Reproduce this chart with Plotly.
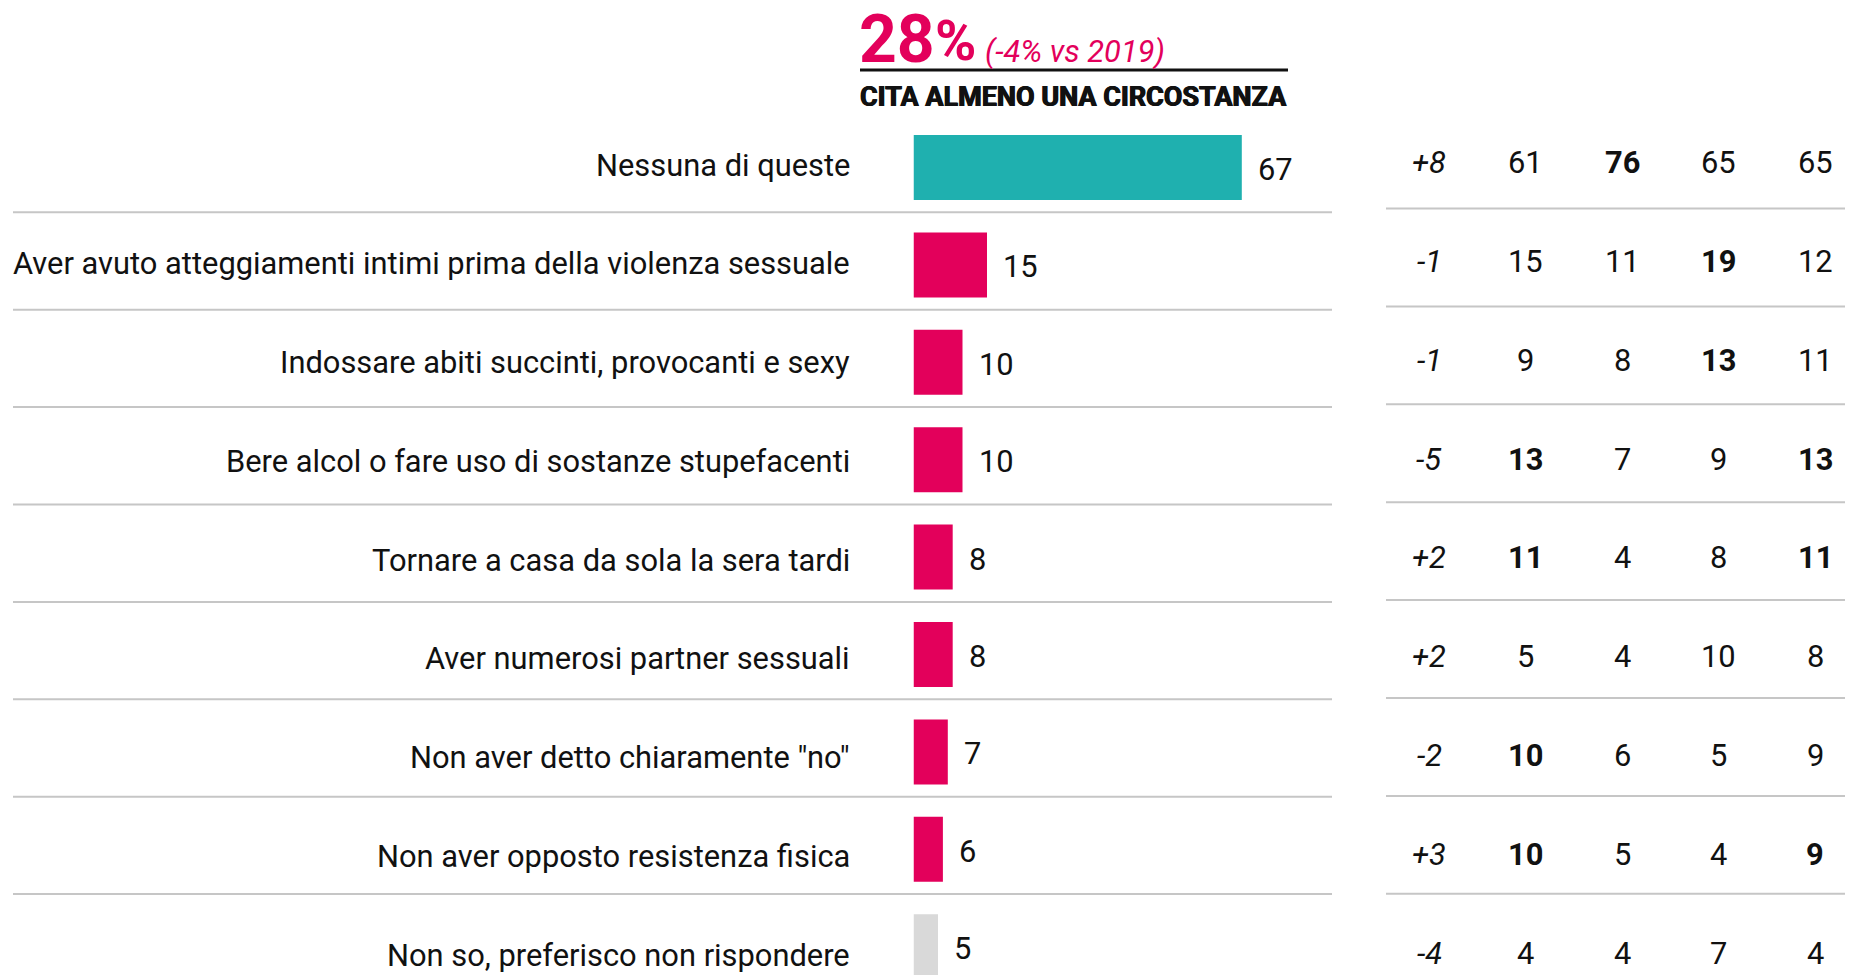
import plotly.graph_objects as go

# Survey answers (share of respondents, %)
categories = [
    "Nessuna di queste",
    "Aver avuto atteggiamenti intimi prima della violenza sessuale",
    "Indossare abiti succinti, provocanti e sexy",
    "Bere alcol o fare uso di sostanze stupefacenti",
    "Tornare a casa da sola la sera tardi",
    "Aver numerosi partner sessuali",
    "Non aver detto chiaramente \"no\"",
    "Non aver opposto resistenza fisica",
    "Non so, preferisco non rispondere",
]
values = [67, 15, 10, 10, 8, 8, 7, 6, 5]
bar_kind = ["none", "cite", "cite", "cite", "cite", "cite", "cite", "cite", "dk"]

# Side table: change vs 2019 and four breakdown columns
delta = ["+8", "-1", "-1", "-5", "+2", "+2", "-2", "+3", "-4"]
col_a = [61, 15, 9, 13, 11, 5, 10, 10, 4]
col_b = [76, 11, 8, 7, 4, 4, 6, 5, 4]
col_c = [65, 19, 13, 9, 8, 10, 5, 4, 7]
col_d = [65, 12, 11, 13, 11, 8, 9, 9, 4]
bold_a = [False, False, False, True, True, False, True, True, False]
bold_b = [True, False, False, False, False, False, False, False, False]
bold_c = [False, True, True, False, False, False, False, False, False]
bold_d = [False, False, False, True, True, False, False, True, False]

headline_value = "28"
headline_note = "(-4% vs 2019)"
headline_label = "CITA ALMENO UNA CIRCOSTANZA"

W, H = 1856, 975
MAGENTA = "#E3005B"
TEAL = "#1FB0AF"
GREY_BAR = "#D9D9D9"
RULE = "#C6C6C6"
INK = "#111111"
FONT = "Roboto, 'Noto Sans', sans-serif"
FS = 30.85

color_map = {"none": TEAL, "cite": MAGENTA, "dk": GREY_BAR}
rows = list(range(len(categories)))

# vertical scale: row centre 0 sits at 167.5 px, rows 97.4 px apart
row_top_px = 167.5
row_pitch = 97.4
y_top = -row_top_px / row_pitch
y_bot = (H - row_top_px) / row_pitch

# horizontal scale: zero at 913.5 px, 4.9 px per point
x0_px, x1_px, px_per = 913.5, 1340.0, 4.9
x_max = (x1_px - x0_px) / px_per

# text rows of the label column and side table run on a slightly wider pitch
label_top_px, label_pitch = 165.0, 98.75
table_top_px, table_pitch = 162.3, 98.9
table_rule_top_px, table_rule_pitch = 208.5, 97.9

fig = go.Figure()
fig.add_trace(go.Bar(
    x=values, y=rows, orientation="h",
    marker=dict(color=[color_map[k] for k in bar_kind], line=dict(width=0)),
    width=65 / row_pitch,
    hoverinfo="skip",
))

annotations = []

def px(xp):
    return xp / W

def py(yp):
    return 1 - yp / H

# value labels next to the bars
for i, v in enumerate(values):
    annotations.append(dict(
        x=v, y=i, xref="x", yref="y", text=str(v), showarrow=False,
        xanchor="left", yanchor="middle", xshift=14, yshift=-2,
        font=dict(family=FONT, size=FS, color=INK),
    ))

# category labels, right-aligned
for i, c in enumerate(categories):
    annotations.append(dict(
        x=px(852), y=py(label_top_px + label_pitch * i),
        xref="paper", yref="paper", text=c, showarrow=False,
        xanchor="right", yanchor="middle",
        font=dict(family=FONT, size=FS, color=INK),
    ))

# side table
col_x = [1429, 1525, 1622, 1718, 1815]
for i in rows:
    cells = [
        ("<i>%s</i>" % delta[i], False),
        (str(col_a[i]), bold_a[i]),
        (str(col_b[i]), bold_b[i]),
        (str(col_c[i]), bold_c[i]),
        (str(col_d[i]), bold_d[i]),
    ]
    for cx, (txt, b) in zip(col_x, cells):
        annotations.append(dict(
            x=px(cx), y=py(table_top_px + table_pitch * i),
            xref="paper", yref="paper",
            text=("<b>%s</b>" % txt) if b else txt, showarrow=False,
            xanchor="center", yanchor="middle",
            font=dict(family=FONT, size=FS, color=INK),
        ))

# headline block
annotations += [
    dict(x=px(857), y=py(80), xref="paper", yref="paper",
         text="<b>%s</b>" % headline_value, showarrow=False,
         xanchor="left", yanchor="bottom",
         font=dict(family=FONT, size=66, color=MAGENTA)),
    dict(x=px(933), y=py(76), xref="paper", yref="paper",
         text="<b>%</b>", showarrow=False,
         xanchor="left", yanchor="bottom",
         font=dict(family=FONT, size=56, color=MAGENTA)),
    dict(x=px(983), y=py(72.5), xref="paper", yref="paper",
         text="<i>%s</i>" % headline_note, showarrow=False,
         xanchor="left", yanchor="bottom",
         font=dict(family=FONT, size=FS, color=MAGENTA)),
    dict(x=px(858), y=py(96.5), xref="paper", yref="paper",
         text="<b>%s</b>" % headline_label, showarrow=False,
         xanchor="left", yanchor="middle",
         font=dict(family=FONT, size=27, color=INK, weight=900,
                   shadow="0.6px 0 0 #111111, -0.6px 0 0 #111111")),
]

shapes = [
    dict(type="line", xref="paper", yref="paper",
         x0=px(860), x1=px(1288), y0=py(70), y1=py(70),
         line=dict(color=INK, width=3)),
]
# row separators in both tables
for i in rows[:-1]:
    ys = i + 0.46
    shapes.append(dict(type="line", xref="paper", yref="y",
                       x0=px(13), x1=px(1332), y0=ys, y1=ys,
                       line=dict(color=RULE, width=2), layer="below"))
    yr = py(table_rule_top_px + table_rule_pitch * i)
    shapes.append(dict(type="line", xref="paper", yref="paper",
                       x0=px(1386), x1=px(1845), y0=yr, y1=yr,
                       line=dict(color=RULE, width=2), layer="below"))

fig.update_layout(
    width=W, height=H,
    margin=dict(l=0, r=0, t=0, b=0),
    paper_bgcolor="white", plot_bgcolor="white",
    showlegend=False,
    xaxis=dict(domain=[px(x0_px), px(x1_px)], range=[0, x_max],
               visible=False, fixedrange=True),
    yaxis=dict(domain=[0, 1], range=[y_bot, y_top],
               visible=False, fixedrange=True),
    annotations=annotations,
    shapes=shapes,
)

fig.write_html("out.html", config={"displayModeBar": False})
